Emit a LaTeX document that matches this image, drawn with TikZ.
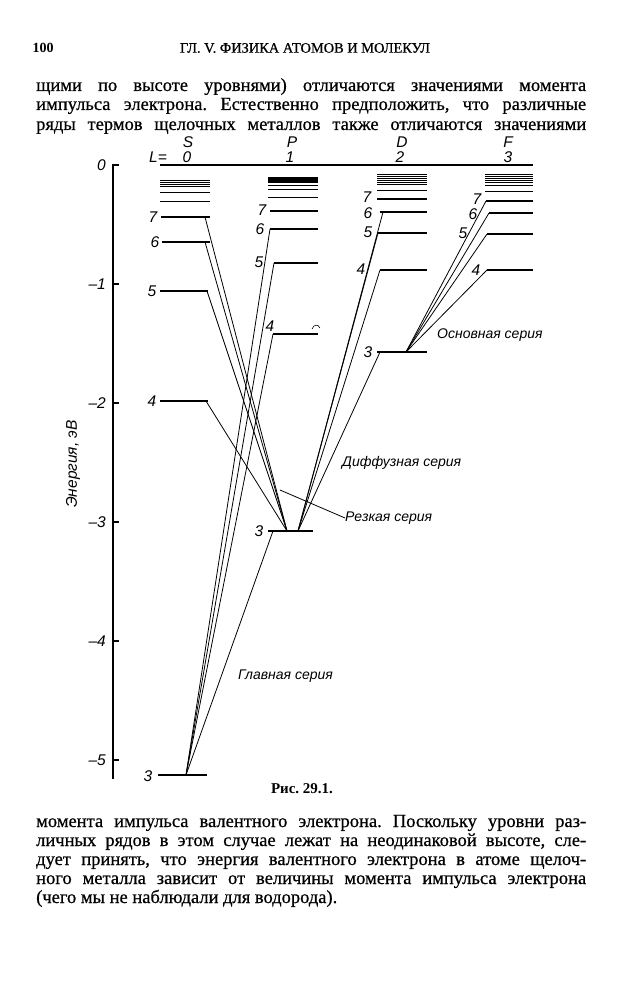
\documentclass[tikz,border=0pt]{standalone}
\usepackage{fontspec}
\setmainfont{Liberation Serif}
\newfontfamily\bodyfont{Liberation Serif}[FakeBold=0.6]
\newfontfamily\lab{Liberation Sans}
\begin{document}
\frenchspacing
\begin{tikzpicture}[x=1pt,y=-1pt,
  lev/.style={line width=1.3pt},
  thinlev/.style={line width=1pt},
  tr/.style={line width=0.8pt},
  axisline/.style={line width=1.5pt},
  num/.style={font=\lab\itshape\fontsize{15.5}{16}\selectfont, inner sep=0pt},
  ser/.style={font=\lab\itshape\fontsize{14}{14}\selectfont, inner sep=0pt, anchor=west},
  body/.style={font=\bodyfont\fontsize{18.5}{19}\selectfont, inner sep=0pt, anchor=base west},
  head/.style={font=\bfseries\fontsize{14}{14}\selectfont, inner sep=0pt}]
\useasboundingbox[fill=white] (0,0) rectangle (627,1000);

% ---------- page text ----------
\node[head] (pgno) at (43,48) {100};
\node[font=\bodyfont\fontsize{13}{13}\selectfont, inner sep=0pt] (runhead) at (305,48) {\resizebox{250pt}{!}{ГЛ. V. ФИЗИКА АТОМОВ И МОЛЕКУЛ}};
\node[body] (t1) at (36,91) {\makebox[550pt][s]{щими по высоте уровнями) отличаются значениями момента}};
\node[body] (t2) at (36,110) {\makebox[550pt][s]{импульса электрона. Естественно предположить, что различные}};
\node[body] (t3) at (36,130) {\makebox[550pt][s]{ряды термов щелочных металлов также отличаются значениями}};
\node[font=\bfseries\fontsize{15}{15}\selectfont, inner sep=0pt] (cap) at (302,789) {Рис. 29.1.};
\node[body] (b1) at (36,827) {\makebox[550pt][s]{момента импульса валентного электрона. Поскольку уровни раз-}};
\node[body] (b2) at (36,846) {\makebox[550pt][s]{личных рядов в этом случае лежат на неодинаковой высоте, сле-}};
\node[body] (b3) at (36,865) {\makebox[550pt][s]{дует принять, что энергия валентного электрона в атоме щелоч-}};
\node[body] (b4) at (36,884) {\makebox[550pt][s]{ного металла зависит от величины момента импульса электрона}};
\node[body] (b5) at (36,903) {(чего мы не наблюдали для водорода).};

% ---------- axis ----------
\coordinate (ax0) at (113,165);
\coordinate (ax1) at (113,779);
\draw[axisline] (ax0) -- (ax1);
\foreach \v/\y in {0/165,1/284,2/403,3/522,4/641,5/760}{
  \draw[line width=1.2pt] (112,\y) -- (119,\y);
}
\node[num, anchor=east] (l0) at (106,165) {0};
\node[num, anchor=east] (l1) at (106,284) {–1};
\node[num, anchor=east] (l2) at (106,403) {–2};
\node[num, anchor=east] (l3) at (106,522) {–3};
\node[num, anchor=east] (l4) at (106,641) {–4};
\node[num, anchor=east] (l5) at (106,760) {–5};
\node[num, rotate=90] (ylab) at (73,464) {Энергия, эВ};

% ---------- column headings ----------
\node[num] (hS) at (188,142) {S};
\node[num] (hP) at (292,142) {P};
\node[num] (hD) at (402,142) {D};
\node[num] (hF) at (508,142) {F};
\node[num] (hL) at (158,157) {L=};
\node[num] (h0) at (187,157) {0};
\node[num] (h1) at (290,157) {1};
\node[num] (h2) at (400,157) {2};
\node[num] (h3) at (508,157) {3};
\coordinate (topa) at (160,165);
\coordinate (topb) at (533,165);
\draw[lev] (topa) -- (topb);

% ---------- S levels ----------
\foreach \y in {180.5,182.5,184.5,186.5,193,202}{\draw[thinlev] (160,\y) -- (210,\y);}
\coordinate (S7) at (161,217); \draw[lev] (S7) -- (210,217);
\coordinate (S6) at (162,242); \draw[lev] (S6) -- (210,242);
\coordinate (S5) at (160,291); \draw[lev] (S5) -- (208,291);
\coordinate (S4) at (160,401); \draw[lev] (S4) -- (208,401);
\coordinate (S3) at (158,775); \draw[lev] (S3) -- (207,775);
\node[num] (nS7) at (153,217) {7};
\node[num] (nS6) at (155,242) {6};
\node[num] (nS5) at (152,291) {5};
\node[num] (nS4) at (152,401) {4};
\node[num] (nS3) at (148,776) {3};

% ---------- P levels ----------
\fill (268,177) rectangle (318,183);
\foreach \y in {186,190,198}{\draw[thinlev] (268,\y) -- (318,\y);}
\coordinate (P7) at (270,211); \draw[lev] (P7) -- (318,211);
\coordinate (P6) at (270,229); \draw[lev] (P6) -- (318,229);
\coordinate (P5) at (274,263); \draw[lev] (P5) -- (318,263);
\coordinate (P4) at (273,334); \draw[lev] (P4) -- (318,334);
\coordinate (P3) at (268,531); \draw[lev] (P3) -- (313,531);
\node[num] (nP7) at (262,210) {7};
\node[num] (nP6) at (260,229) {6};
\node[num] (nP5) at (259,262) {5};
\node[num] (nP4) at (270,326) {4};
\node[num] (nP3) at (259,531) {3};
\draw[line width=0.6pt] (312,329) .. controls (314,324) and (318,324) .. (320,328);

% ---------- D levels ----------
\foreach \y in {175,177,179,181,183,185,191}{\draw[thinlev] (377,\y) -- (427,\y);}
\coordinate (D7) at (377,199); \draw[lev] (D7) -- (427,199);
\coordinate (D6) at (380,212); \draw[lev] (D6) -- (427,212);
\coordinate (D5) at (378,233); \draw[lev] (D5) -- (427,233);
\coordinate (D4) at (380,270); \draw[lev] (D4) -- (427,270);
\coordinate (D3) at (377,352); \draw[lev] (D3) -- (427,352);
\node[num] (nD7) at (367,197) {7};
\node[num] (nD6) at (368,213) {6};
\node[num] (nD5) at (368,232) {5};
\node[num] (nD4) at (361,269) {4};
\node[num] (nD3) at (368,352) {3};

% ---------- F levels ----------
\foreach \y in {175,177,179,181,183,186,192}{\draw[thinlev] (485,\y) -- (533,\y);}
\coordinate (F7) at (486,201); \draw[lev] (F7) -- (533,201);
\coordinate (F6) at (489,213); \draw[lev] (F6) -- (533,213);
\coordinate (F5) at (487,234); \draw[lev] (F5) -- (533,234);
\coordinate (F4) at (487,270); \draw[lev] (F4) -- (533,270);
\node[num] (nF7) at (477,199) {7};
\node[num] (nF6) at (473,214) {6};
\node[num] (nF5) at (463,233) {5};
\node[num] (nF4) at (476,270) {4};

% ---------- transitions ----------
\coordinate (pr) at (186,775);
\draw[tr] (pr) -- (273,531);
\draw[tr] (pr) -- (P4);
\draw[tr] (pr) -- (P5);
\draw[tr] (pr) -- (P6);

\coordinate (sh) at (287,531);
\coordinate (S4r) at (206,401);
\coordinate (S5r) at (207,291);
\coordinate (S6r) at (205,242);
\coordinate (S7r) at (205,217);
\draw[tr] (sh) -- (S4r);
\draw[tr] (sh) -- (S5r);
\draw[tr] (sh) -- (S6r);
\draw[tr] (sh) -- (S7r);

\coordinate (di) at (298,531);
\draw[tr] (di) -- (380,352);
\draw[tr] (di) -- (D4);
\draw[tr] (di) -- (D5);
\draw[tr] (di) -- (383,212);

\coordinate (fu) at (406,352);
\draw[tr] (fu) -- (F4);
\draw[tr] (fu) -- (F5);
\draw[tr] (fu) -- (F6);
\draw[tr] (fu) -- (F7);

% ---------- series labels ----------
\node[ser] (serF) at (437,335) {Основная серия};
\node[ser] (serD) at (342,463) {Диффузная серия};
\node[ser] (serS) at (345,518) {Резкая серия};
\node[ser] (serP) at (238,676) {Главная серия};
\coordinate (lead) at (280,490);
\draw[tr] (lead) -- (serS.west);
\end{tikzpicture}
\end{document}
